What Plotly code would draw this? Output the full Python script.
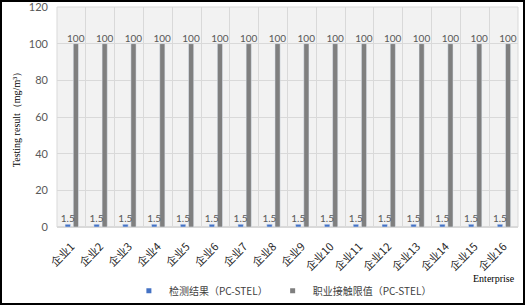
import plotly.graph_objects as go

categories = [f"企业{i}" for i in range(1, 17)]
detected = [1.5] * 16
limit = [100] * 16
series_names = ["检测结果（PC-STEL）", "职业接触限值（PC-STEL）"]
series_colors = ["#4472C4", "#7F7F7F"]
y_ticks = [0, 20, 40, 60, 80, 100, 120]

W, H = 525, 305
L, R, T, B = 57, 7, 7, 78
pw, ph = W - L - R, H - T - B

label_font = dict(size=10, color="#595959", family="Lato")

fig = go.Figure()
# limit bars drawn first so the small-value labels sit on top
fig.add_trace(go.Bar(x=categories, y=limit, name=series_names[1], showlegend=False,
                     marker_color=series_colors[1], offset=0.065, width=0.18,
                     text=limit, texttemplate="%{y}", textposition="outside",
                     constraintext="none", cliponaxis=False, textfont=label_font))
fig.add_trace(go.Bar(x=categories, y=detected, name=series_names[0], showlegend=False,
                     marker_color=series_colors[0], offset=-0.22, width=0.19,
                     text=detected, texttemplate="%{y}", textposition="outside",
                     constraintext="none", cliponaxis=False, textfont=label_font))
# legend entries (small square markers as in the original)
for nm, col in zip(series_names, series_colors):
    fig.add_trace(go.Scatter(x=[None], y=[None], mode="markers", name=nm,
                             marker=dict(symbol="square", size=5, color=col)))

fig.update_layout(
    width=W, height=H,
    margin=dict(l=L, r=R, t=T, b=B, autoexpand=False),
    paper_bgcolor="white", plot_bgcolor="#F2F2F2",
    barmode="overlay",
    showlegend=True,
    legend=dict(orientation="h", x=0.49, xanchor="center", y=-0.29, yanchor="middle",
                font=dict(size=10, color="#404040", family="Noto Sans CJK SC"),
                bgcolor="rgba(0,0,0,0)", itemwidth=30, traceorder="normal",
                tracegroupgap=0),
    xaxis=dict(tickson="boundaries", showgrid=True, gridcolor="#D9D9D9", gridwidth=1,
               tickangle=-45, tickfont=dict(size=11, color="#262626", family="Noto Sans CJK SC"),
               showline=False, ticks="", zeroline=False, automargin=False,
               ticklabelstandoff=10),
    yaxis=dict(range=[0, 120], tickvals=y_ticks, showgrid=True, gridcolor="#D9D9D9",
               tickfont=dict(size=11, color="#595959", family="Lato"),
               zeroline=True, zerolinecolor="#D9D9D9", ticks="", ticklabelstandoff=8,
               automargin=False, ticklabeloverflow="allow",
               title=dict(text="Testing result（mg/m³）", font=dict(size=10, color="#000000", family="Liberation Serif"),
                          standoff=6)),
    annotations=[dict(text="Enterprise", xref="paper", yref="paper", x=0.997, y=-0.2,
                      xanchor="right", yanchor="top", showarrow=False,
                      font=dict(size=10, color="#000000", family="Liberation Serif"))],
    shapes=[dict(type="rect", xref="paper", yref="paper",
                 x0=-(L - 1) / pw, x1=1 + (R - 1) / pw,
                 y0=-(B - 1) / ph, y1=1 + (T - 1) / ph,
                 line=dict(color="#000000", width=2), layer="above"),
            dict(type="rect", xref="paper", yref="paper", x0=0, x1=1, y0=0, y1=1,
                 line=dict(color="#D9D9D9", width=1), layer="below")],
)

fig.write_html("out.html", config={"displayModeBar": False},
               post_script="document.body.style.margin='0';document.body.style.overflow='hidden';")
